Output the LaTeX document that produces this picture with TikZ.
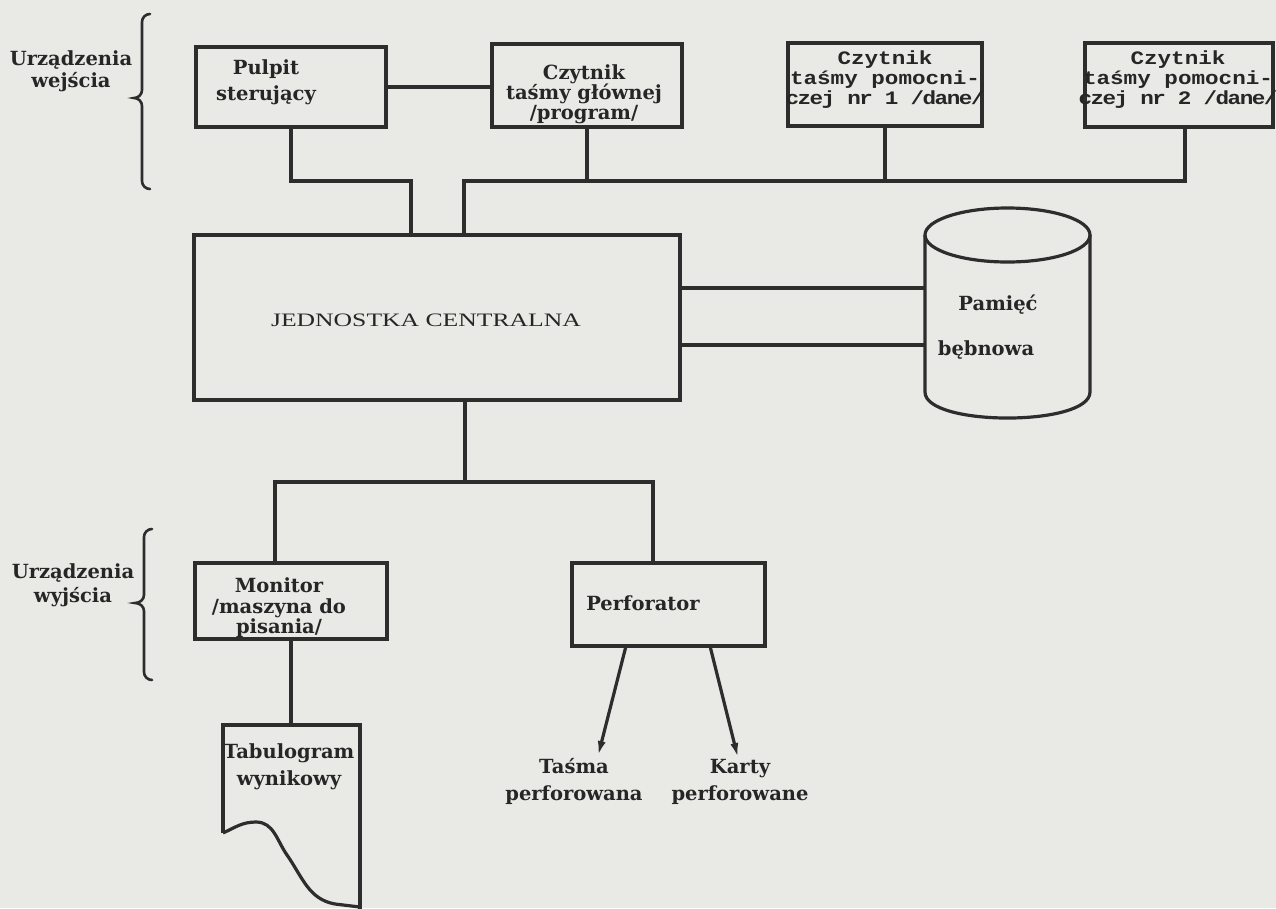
\documentclass[tikz,border=0pt]{standalone}
\usepackage{fontspec}
\setmainfont{DejaVu Serif}
\newfontfamily\monofont[FakeStretch=1.19]{Liberation Mono}
\newfontfamily\monotight[FakeStretch=1.19,LetterSpace=-8]{Liberation Mono}
\newfontfamily\jcfont[FakeStretch=1.35]{Liberation Serif}
\usetikzlibrary{arrows.meta}
\definecolor{paper}{RGB}{233,233,229}
\definecolor{ink}{RGB}{38,38,38}
\definecolor{linec}{RGB}{45,45,45}
\tikzset{
  wire/.style={draw=linec, line width=3.2pt},
  boxnode/.style={draw=linec, line width=3.2pt, rectangle, inner sep=0pt},
  lbl/.style={font=\bfseries\fontsize{19.5}{#1}\selectfont, text=ink, align=center, inner sep=0pt},
  lbl/.default=22,
  monolbl/.style={font=\monofont\bfseries\fontsize{19}{20}\selectfont, text=ink, align=center, inner sep=0pt},
  jclbl/.style={font=\jcfont\fontsize{19}{22}\selectfont, text=ink, inner sep=0pt},
  arr/.style={wire, -{Latex[length=15pt,width=8pt]}},
}
\begin{document}
\begin{tikzpicture}[x=1pt,y=-1pt]
\fill[paper] (0,0) rectangle (1276,908);
\useasboundingbox (0,0) rectangle (1276,908);

% boxes
\node[boxnode, minimum width=190pt, minimum height=80pt] (pulpit) at (291,87) {};
\node[boxnode, minimum width=190pt, minimum height=83pt] (czg) at (587,85.5) {};
\node[boxnode, minimum width=194pt, minimum height=83pt] (cz1) at (885,84.5) {};
\node[boxnode, minimum width=188pt, minimum height=84pt] (cz2) at (1179,85) {};
\node[boxnode, minimum width=486pt, minimum height=165pt] (jc) at (437,317.5) {};
\node[boxnode, minimum width=192pt, minimum height=76pt] (mon) at (291,601) {};
\node[boxnode, minimum width=193pt, minimum height=83pt] (perf) at (668.5,604.5) {};

% texts
\node[lbl] (lwe) at (71,71) {Urządzenia\\wejścia};
\node[lbl=24] (lwy) at (73,585) {Urządzenia\\wyjścia};
\node[lbl=26] (tpulpit) at (266,82) {Pulpit\\sterujący};
\node[lbl=20] (tczg) at (584,94) {Czytnik\\taśmy głównej\\/program/};
\node[monolbl] (tcz1) at (885,80) {Czytnik\\taśmy pomocni-\\{\monotight\bfseries czej nr 1 /dane/}};
\node[monolbl] (tcz2) at (1178,80) {Czytnik\\taśmy pomocni-\\{\monotight\bfseries czej nr 2 /dane/}};
\node[jclbl] (tjc) at (426,320) {JEDNOSTKA CENTRALNA};
\node[lbl] (tpam) at (998,305) {Pamięć};
\node[lbl] (tbeb) at (986,350) {bębnowa};
\node[lbl=20.5] (tmon) at (279,608) {Monitor\\/maszyna do\\pisania/};
\node[lbl] (tperf) at (643,603) {Perforator};
\node[lbl=27] (ttab) at (289,766.5) {Tabulogram\\wynikowy};
\node[lbl=27] (ttas) at (574,781.5) {Taśma\\perforowana};
\node[lbl=27] (tkar) at (740,781.5) {Karty\\perforowane};

% junction coordinates
\coordinate (jL) at (411,181);
\coordinate (jR) at (464,181);
\coordinate (b2) at (1185,181);
\coordinate (d1) at (925,288);
\coordinate (d2) at (925,345);
\coordinate (oL) at (275,482);
\coordinate (oM) at (465,482);
\coordinate (oR) at (653,482);
\coordinate (tabTL) at (223,725);
\coordinate (tabTR) at (360,725);
\coordinate (p1) at (626,646);
\coordinate (p2) at (710,646);
\coordinate (e1) at (598,756);
\coordinate (e2) at (738,758);

% connectors top
\draw[wire] (pulpit.east) -- (pulpit.east -| czg.west);
\draw[wire] (pulpit.south) |- (jL) -- (jL |- jc.north);
\draw[wire] (jR |- jc.north) -- (jR) -- (b2) -- (b2 |- cz2.south);
\draw[wire] (czg.south) -- (czg.south |- jR);
\draw[wire] (cz1.south) -- (cz1.south |- jR);

% drum
\draw[wire] (1007.5,235) ellipse [x radius=82.5pt, y radius=27pt];
\draw[wire] (925,235) -- (925,392) .. controls (925,426.7) and (1090,426.7) .. (1090,392) -- (1090,235);
\draw[wire] (d1 -| jc.east) -- (d1);
\draw[wire] (d2 -| jc.east) -- (d2);

% outputs
\draw[wire] (oM |- jc.south) -- (oM);
\draw[wire] (oL |- mon.north) -- (oL) -- (oR) -- (oR |- perf.north);
\draw[wire] (mon.south) -- (mon.south |- tabTL);
\draw[wire] (223,833) -- (tabTL) -- (tabTR) -- (360,910);
\draw[wire] (223,833) to[out=25,in=180] (256,822) to[out=0,in=125] (287,855) to[out=-55,in=170] (335,904) -- (360,907);
\draw[arr] (p1) -- (e1);
\draw[arr] (p2) -- (e2);

% braces
\draw[wire, line width=2.6pt, line cap=round] (150,14) to[out=180,in=90] (142,22) -- (142,90) to[out=-90,in=0] (134,98) to[out=0,in=90] (142,106) -- (142,181) to[out=-90,in=180] (150,189);
\draw[wire, line width=2.6pt, line cap=round] (152,529) to[out=180,in=90] (144,537) -- (144,595) to[out=-90,in=0] (135,603) to[out=0,in=90] (144,611) -- (144,672) to[out=-90,in=180] (152,680);
\end{tikzpicture}
\end{document}
